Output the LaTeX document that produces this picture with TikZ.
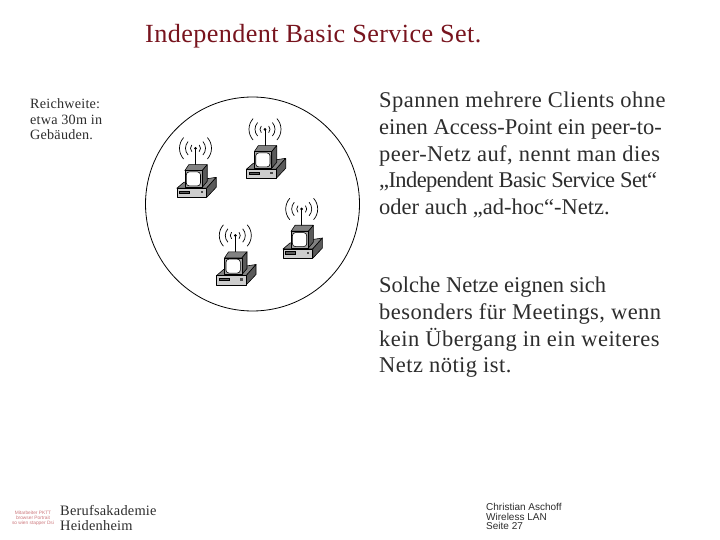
\documentclass[tikz,border=0pt]{standalone}
\usepackage{fontspec}
\setmainfont{Liberation Serif}[LetterSpace=1.5]
\newfontfamily\bodyfont{Liberation Serif}[LetterSpace=2]
\newfontfamily\plainfont{Liberation Serif}
\newfontfamily\tightfont{Liberation Serif}[LetterSpace=-2.7]
\setsansfont{Liberation Sans}
\definecolor{titlered}{RGB}{120,20,30}
\definecolor{bodygrey}{RGB}{45,45,45}
\definecolor{logored}{RGB}{205,120,125}
\definecolor{topgrey}{RGB}{130,130,130}
\definecolor{sidegrey}{RGB}{90,90,90}
\definecolor{basegrey}{RGB}{205,205,205}
\tikzset{
  titletext/.style={anchor=base west,inner sep=0pt,text=titlered,font=\fontsize{26.2}{26}\selectfont},
  bodytext/.style={anchor=north west,inner sep=0pt,align=left,text=bodygrey,font=\bodyfont\fontsize{22.5}{26.7}\selectfont},
  smalltext/.style={anchor=north west,inner sep=0pt,align=left,text=bodygrey,font=\fontsize{14.2}{15.6}\selectfont},
  foottext/.style={anchor=north west,inner sep=0pt,align=left,text=bodygrey,font=\sffamily\fontsize{10}{9.6}\selectfont},
  schooltext/.style={anchor=north west,inner sep=0pt,align=left,text=bodygrey,font=\fontsize{14.4}{15}\selectfont},
  logotext/.style={anchor=center,inner sep=0pt,align=center,text=logored,font=\sffamily\fontsize{4.8}{4.8}\selectfont},
  part/.style={draw=black,line width=0.6pt,line join=round},
  wave/.style={draw=black,line width=0.7pt},
  pics/station/.style={code={
    \fill[black] (0,0) circle (1.5);
    \draw[line width=1pt] (0,0) -- (0,17);
    \foreach \r in {5,10,16}{
      \draw[wave] (42:\r) arc[start angle=42,end angle=-42,radius=\r];
      \draw[wave] (138:\r) arc[start angle=138,end angle=222,radius=\r];
    }
    % base
    \draw[part,fill=topgrey] (-18.7,40) -- (-11.7,34) -- (20.7,29) -- (11,40) -- cycle;
    \draw[part,fill=sidegrey] (11,40) -- (20.7,29) -- (20.7,39) -- (11,49.3) -- cycle;
    \draw[part,fill=basegrey] (-18.7,40) rectangle (11,49.3);
    \draw[line width=0.5pt,fill=sidegrey] (-16,42.5) rectangle (-6,45);
    \fill[black!70] (5,42.5) rectangle (7.5,45);
    % monitor
    \draw[part,fill=topgrey] (-10.7,22.3) -- (-6.7,16.3) -- (11.7,16.3) -- (6.7,22.3) -- cycle;
    \draw[part,fill=sidegrey] (6.7,22.3) -- (11.7,16.3) -- (11.7,33) -- (6.7,39) -- cycle;
    \draw[part,fill=topgrey!70] (-10.7,22.3) rectangle (6.7,39);
    \draw[part,fill=white,rounded corners=3pt] (-9.3,23.6) rectangle (5,37.6);
  }}
}
\begin{document}
\begin{tikzpicture}[x=1pt,y=-1pt]
\useasboundingbox (0,0) rectangle (720,540);
\fill[white] (0,0) rectangle (720,540);
\node[titletext] (title) at (145,42.5) {Independent Basic Service Set.};
\node[smalltext] (reach) at (30,98.5) {Reichweite:\\etwa 30m in\\Gebäuden.};
\node[bodytext] (para1) at (379,92) {Spannen mehrere Clients ohne\\{\plainfont einen Access-Point ein peer-to-}\\peer-Netz auf, nennt man dies\\{\tightfont „Independent Basic Service Set“}\\{\plainfont oder auch „ad-hoc“-Netz.}};
\node[bodytext] (para2) at (379,277) {{\plainfont Solche Netze eignen sich}\\besonders für Meetings, wenn\\kein Übergang in ein weiteres\\Netz nötig ist.};
\node[draw=black,line width=0.8pt,circle,minimum size=214pt,inner sep=0pt] (cell) at (252.5,204) {};
\pic at (195.5,148.3) {station};
\pic at (265,129.3) {station};
\pic at (301.7,209) {station};
\pic at (235.3,235.5) {station};
\node[logotext] (logo) at (33,518.5) {Mitarbeiter PKTT\\browser Portrait\\so wien stapper Dsi};
\node[schooltext] (school) at (60,505.5) {Berufsakademie\\Heidenheim};
\node[foottext] (foot) at (486,503) {Christian Aschoff\\Wireless LAN\\Seite 27};
\end{tikzpicture}
\end{document}
